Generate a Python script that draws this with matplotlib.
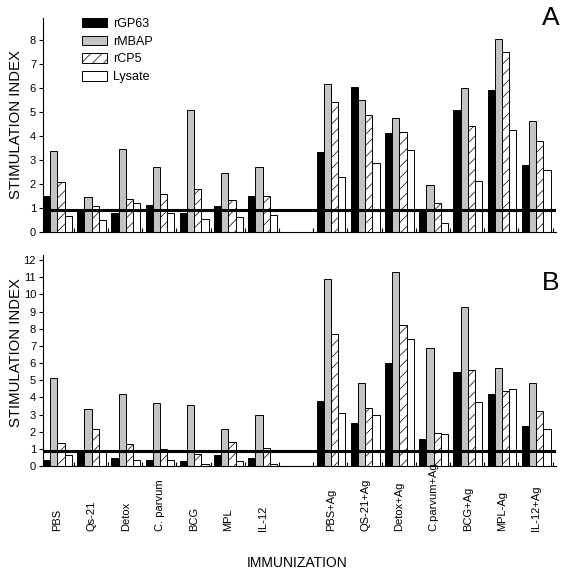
import numpy as np
import matplotlib
matplotlib.use('Agg')
import matplotlib.pyplot as plt
from matplotlib.transforms import blended_transform_factory

plt.rcParams['font.family'] = ['Liberation Sans', 'DejaVu Sans']
plt.rcParams['hatch.linewidth'] = 0.5

groups = ['PBS', 'Qs-21', 'Detox', 'C. parvum', 'BCG', 'MPL', 'IL-12',
          'PBS+Ag', 'QS-21+Ag', 'Detox+Ag', 'C.parvum+Ag', 'BCG+Ag', 'MPL-Ag', 'IL-12+Ag']
series = ['rGP63', 'rMBAP', 'rCP5', 'Lysate']

# panel A
a_gp63 = [1.50, 0.88, 0.78, 1.11, 0.80, 1.08, 1.50, 3.33, 6.03, 4.12, 0.93, 5.07, 5.93, 2.78]
a_mbap = [3.38, 1.46, 3.47, 2.72, 5.07, 2.47, 2.72, 6.17, 5.51, 4.76, 1.97, 5.99, 8.06, 4.62]
a_cp5 = [2.08, 1.08, 1.36, 1.57, 1.78, 1.32, 1.50, 5.42, 4.86, 4.17, 1.21, 4.43, 7.49, 3.81]
a_lys = [0.67, 0.50, 1.21, 0.79, 0.53, 0.61, 0.69, 2.29, 2.88, 3.42, 0.38, 2.11, 4.24, 2.60]

# panel B
b_gp63 = [0.35, 0.91, 0.45, 0.35, 0.29, 0.64, 0.45, 3.77, 2.51, 5.99, 1.56, 5.47, 4.22, 2.35]
b_mbap = [5.12, 3.35, 4.18, 3.66, 3.58, 2.16, 2.98, 10.9, 4.84, 11.3, 6.85, 9.28, 5.74, 4.84]
b_cp5 = [1.32, 2.14, 1.26, 0.97, 0.70, 1.40, 1.05, 7.70, 3.40, 8.21, 1.95, 5.62, 4.38, 3.21]
b_lys = [0.62, 0.93, 0.35, 0.35, 0.14, 0.27, 0.10, 3.11, 2.96, 7.43, 1.85, 3.75, 4.49, 2.18]

a_ref = 0.92
b_ref = 0.88

# slot positions (one empty slot between the two halves)
slots = np.array([0, 1, 2, 3, 4, 5, 6, 8, 9, 10, 11, 12, 13, 14])
width = 0.21
styles = [dict(color='black', edgecolor='black'),
          dict(color='#c4c4c4', edgecolor='black'),
          dict(color='white', edgecolor='black', hatch='///'),
          dict(color='white', edgecolor='black')]


def draw_panel(ax, data, ref, ymax):
    for j, (vals, st) in enumerate(zip(data, styles)):
        ax.bar(slots + j * width, vals, width, align='edge', linewidth=0.7,
               label=series[j], **st)
    ax.axhline(ref, color='black', lw=2.2, zorder=5)
    ax.set_xlim(0, 15)
    ax.set_ylim(0, ymax)
    ax.set_yticks(range(int(ymax) + 1))
    ax.set_xticks(np.arange(15) + 0.9)
    ax.set_xticklabels([])
    ax.tick_params(axis='x', direction='in', length=3, width=0.8)
    ax.tick_params(axis='y', direction='out', length=3, width=0.8, labelsize=8, pad=2)
    for s in ['top', 'right']:
        ax.spines[s].set_visible(False)
    for s in ['left', 'bottom']:
        ax.spines[s].set_linewidth(0.8)


fig = plt.figure(figsize=(5.67, 5.76), dpi=100)
axA = fig.add_axes([43 / 567, 1 - 232 / 576, 513 / 567, 214 / 576])
axB = fig.add_axes([43 / 567, 1 - 466 / 576, 513 / 567, 211 / 576])

draw_panel(axA, [a_gp63, a_mbap, a_cp5, a_lys], a_ref, 8.92)
draw_panel(axB, [b_gp63, b_mbap, b_cp5, b_lys], b_ref, 12.3)

fig.text(551 / 567, 1 - 18 / 576, 'A', ha='center', va='center', fontsize=19)
fig.text(551 / 567, 1 - 283 / 576, 'B', ha='center', va='center', fontsize=19)

axA.legend(loc='upper left', bbox_to_anchor=(0.064, 1.03), frameon=False,
           fontsize=9, handlelength=2.0, handleheight=0.8, labelspacing=0.45,
           borderpad=0, handletextpad=0.45)

fig.text(16 / 567, 1 - 125 / 576, 'STIMULATION INDEX', rotation=90,
         ha='center', va='center', fontsize=10.7)
fig.text(16 / 567, 1 - 353 / 576, 'STIMULATION INDEX', rotation=90,
         ha='center', va='center', fontsize=10.7)

trans = blended_transform_factory(axB.transData, fig.transFigure)
for x, name in zip(slots + 0.42, groups):
    axB.text(x, 1 - 531 / 576, name, rotation=90, ha='center', va='bottom',
             fontsize=8, transform=trans)

fig.text(297 / 567, 1 - 563 / 576, 'IMMUNIZATION', ha='center', va='center',
         fontsize=10)

fig.savefig('out.png', dpi=100)
